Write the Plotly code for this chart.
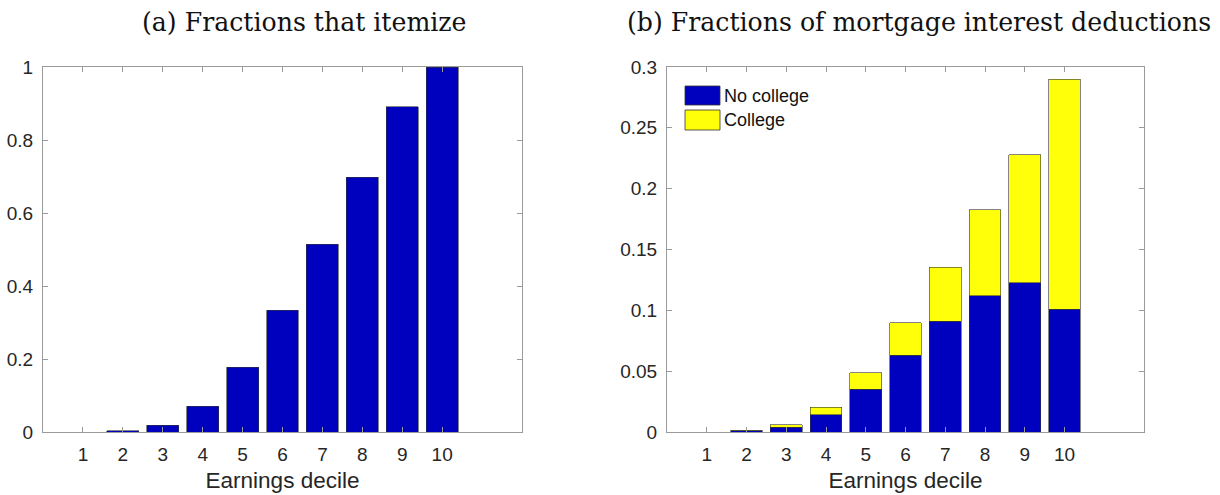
import plotly.graph_objects as go
from plotly.subplots import make_subplots

# Earnings deciles
deciles = [1, 2, 3, 4, 5, 6, 7, 8, 9, 10]

# (a) fraction of households that itemize
itemize_frac = [0.0, 0.003, 0.019, 0.071, 0.178, 0.334, 0.514, 0.698, 0.891, 1.0]

# (b) fractions of mortgage interest deductions, stacked by education
no_college = [0.0, 0.001, 0.0039, 0.014, 0.0353, 0.063, 0.091, 0.112, 0.1225, 0.101]
college = [0.0, 0.0005, 0.0019, 0.0063, 0.0132, 0.0266, 0.0446, 0.0705, 0.1052, 0.189]

# y tick values / labels
ya_ticks = [0, 0.2, 0.4, 0.6, 0.8, 1]
ya_labels = ["0", "0.2", "0.4", "0.6", "0.8", "1"]
yb_ticks = [0, 0.05, 0.1, 0.15, 0.2, 0.25, 0.3]
yb_labels = ["0", "0.05", "0.1", "0.15", "0.2", "0.25", "0.3"]

BLUE = "#0000BF"
YELLOW = "#FFFF0A"
EDGE = "#333333"
AXIS = "#9a9a9a"
TXT = "#262626"
SANS = "Liberation Sans, Arial, sans-serif"
SERIF = "DejaVu Serif, Liberation Serif, serif"

W, H = 1220, 495


def px(x):
    return x / W


def py(y):
    return 1 - y / H


fig = make_subplots(rows=1, cols=2)

fig.add_trace(go.Bar(x=deciles, y=itemize_frac, width=0.8, showlegend=False,
                     marker=dict(color=BLUE, line=dict(color=EDGE, width=0.6))), row=1, col=1)
fig.add_trace(go.Bar(x=deciles, y=no_college, width=0.8, name="No college", showlegend=False,
                     marker=dict(color=BLUE, line=dict(color=EDGE, width=0.6))), row=1, col=2)
fig.add_trace(go.Bar(x=deciles, y=college, width=0.8, name="College", showlegend=False,
                     marker=dict(color=YELLOW, line=dict(color=EDGE, width=0.6))), row=1, col=2)

axis_common = dict(showline=True, linecolor=AXIS, linewidth=1, mirror="ticks", ticks="inside",
                   ticklen=5, tickcolor=AXIS, showgrid=False, zeroline=False, automargin=False,
                   tickfont=dict(family=SANS, size=19, color=TXT))

for c, dom in ((1, [px(43), px(522)]), (2, [px(667), px(1144)])):
    fig.update_xaxes(axis_common, range=[0, 12], tickvals=deciles, ticktext=[str(d) for d in deciles],
                     domain=dom, ticklabelstandoff=5,
                     title=dict(text="Earnings decile", standoff=8, font=dict(family=SANS, size=22.5, color=TXT)),
                     row=1, col=c)

fig.update_yaxes(axis_common, range=[0, 1], tickvals=ya_ticks, ticktext=ya_labels, ticklabelstandoff=5,
                 row=1, col=1)
fig.update_yaxes(axis_common, range=[0, 0.3], tickvals=yb_ticks, ticktext=yb_labels, ticklabelstandoff=5,
                 row=1, col=2)
fig.update_yaxes(domain=[py(432), py(67)])

title_font = dict(family=SERIF, size=25.2, color="#111111")
fig.add_annotation(text="(a) Fractions that itemize", x=px(304), y=py(23), xref="paper", yref="paper",
                   showarrow=False, font=title_font, xanchor="center", yanchor="middle")
fig.add_annotation(text="(b) Fractions of mortgage interest deductions", x=px(919), y=py(23),
                   xref="paper", yref="paper", showarrow=False, font=title_font, xanchor="center", yanchor="middle")

# Legend for panel (b): colour swatches with labels
legend_items = [("No college", BLUE, 86, 105), ("College", YELLOW, 110, 130)]
for label, color, top, bottom in legend_items:
    fig.add_shape(type="rect", xref="paper", yref="paper", x0=px(685), x1=px(720), y0=py(bottom), y1=py(top),
                  fillcolor=color, line=dict(color=EDGE, width=0.8))
    fig.add_annotation(text=label, x=px(722), y=py((top + bottom) / 2), xref="paper", yref="paper",
                       showarrow=False, xanchor="left", yanchor="middle",
                       font=dict(family=SANS, size=18, color="#111111"))

fig.update_layout(
    barmode="stack",
    width=W, height=H,
    margin=dict(l=0, r=0, t=0, b=0),
    paper_bgcolor="white", plot_bgcolor="white",
    showlegend=False,
)

fig.write_html("out.html")
